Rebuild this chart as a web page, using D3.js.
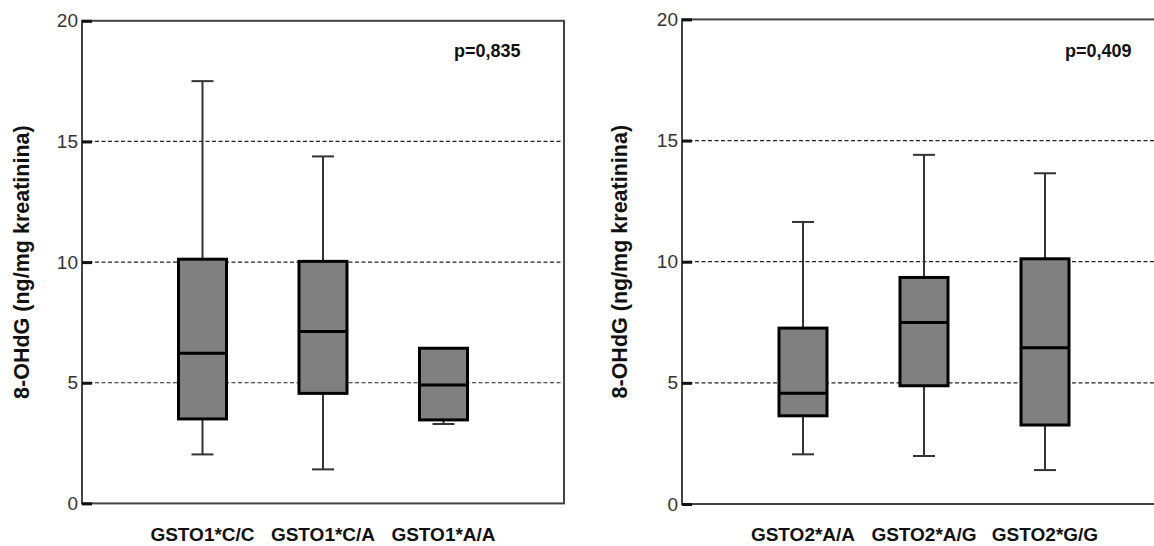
<!DOCTYPE html>
<html>
<head>
<meta charset="utf-8">
<script src="https://cdn.jsdelivr.net/npm/d3@7"></script>
<style>
  body { margin: 0; background: #fff; }
  svg { display: block; }
</style>
</head>
<body>
<div id="app"></div>
<script>
// data
const cats_o1 = ["GSTO1*C/C", "GSTO1*C/A", "GSTO1*A/A"]
const min_o1 = [2.03, 1.41, 3.29]
const q1_o1 = [3.50, 4.56, 3.46]
const med_o1 = [6.22, 7.12, 4.91]
const q3_o1 = [10.12, 10.03, 6.43]
const max_o1 = [17.5, 14.38, 6.43]
const p_o1 = "p=0,835"

const cats_o2 = ["GSTO2*A/A", "GSTO2*A/G", "GSTO2*G/G"]
const min_o2 = [2.05, 1.98, 1.40]
const q1_o2 = [3.64, 4.88, 3.26]
const med_o2 = [4.57, 7.49, 6.45]
const q3_o2 = [7.26, 9.35, 10.12]
const max_o2 = [11.64, 14.41, 13.65]
const p_o2 = "p=0,409"

const y_ticks = [0, 5, 10, 15, 20]
const grid_vals = [5, 10, 15]
const y_title = "8-OHdG (ng/mg kreatinina)"

const width = 1154
const height = 546
const frame_color = "#444"
const box_fill = "#808080"
const whisker_color = "#333"
const box_w = 48
const cap_w = 22
const font = "Liberation Sans, Arial, sans-serif"

const svg = d3.select("#app").append("svg")
   .attr("width", width)
   .attr("height", height)
   .attr("viewBox", [0, 0, width, height])

const make_panel = (cfg) => {
   const rows = cfg.cats.map((c, i) => ({
      cat: c, min: cfg.min[i], q1: cfg.q1[i], med: cfg.med[i], q3: cfg.q3[i], max: cfg.max[i]
   }))

   const x = d3.scalePoint()
      .domain(cfg.cats)
      .range([cfg.left, cfg.left + cfg.w])
      .padding(1)

   const y = d3.scaleLinear()
      .domain([0, 20])
      .range([cfg.bottom, cfg.top])

   const g = svg.append("g")

   // dashed gridlines
   g.append("g")
      .selectAll("line")
      .data(grid_vals)
      .join("line")
      .attr("x1", cfg.left)
      .attr("x2", cfg.left + cfg.w)
      .attr("y1", d => y(d))
      .attr("y2", d => y(d))
      .attr("stroke", "#222")
      .attr("stroke-width", 1.2)
      .attr("stroke-dasharray", "4,2.5")

   // frame
   g.append("rect")
      .attr("x", cfg.left)
      .attr("y", cfg.top)
      .attr("width", cfg.w)
      .attr("height", cfg.bottom - cfg.top)
      .attr("fill", "none")
      .attr("stroke", frame_color)
      .attr("stroke-width", 2)

   const box = g.append("g")
      .selectAll("g")
      .data(rows)
      .join("g")
      .attr("transform", d => `translate(${x(d.cat)},0)`)

   // whiskers
   box.append("line")
      .attr("x1", 0).attr("x2", 0)
      .attr("y1", d => y(d.max))
      .attr("y2", d => y(d.min))
      .attr("stroke", whisker_color)
      .attr("stroke-width", 2)

   box.selectAll(".cap")
      .data(d => [d.min, d.max].filter(v => v !== d.q3 && v !== d.q1))
      .join("line")
      .attr("class", "cap")
      .attr("x1", -cap_w / 2).attr("x2", cap_w / 2)
      .attr("y1", v => y(v))
      .attr("y2", v => y(v))
      .attr("stroke", whisker_color)
      .attr("stroke-width", 2)

   box.append("rect")
      .attr("x", -box_w / 2)
      .attr("width", box_w)
      .attr("y", d => y(d.q3))
      .attr("height", d => y(d.q1) - y(d.q3))
      .attr("fill", box_fill)
      .attr("stroke", "#000")
      .attr("stroke-width", 3)

   box.append("line")
      .attr("x1", -box_w / 2).attr("x2", box_w / 2)
      .attr("y1", d => y(d.med))
      .attr("y2", d => y(d.med))
      .attr("stroke", "#000")
      .attr("stroke-width", 3)

   // y axis, ticks pointing into the plot
   const ax = g.append("g")
      .attr("transform", `translate(${cfg.left},0)`)
      .call(d3.axisLeft(y).tickValues(y_ticks).tickSize(-10).tickPadding(4))
   ax.select(".domain").remove()
   ax.selectAll(".tick line")
      .attr("stroke", "#111")
      .attr("stroke-width", 3)
   ax.selectAll(".tick text")
      .attr("font-family", font)
      .attr("font-size", 19)
      .attr("fill", "#333")

   // category labels
   g.append("g")
      .selectAll("text")
      .data(cfg.cats)
      .join("text")
      .attr("x", d => x(d))
      .attr("y", 541)
      .attr("text-anchor", "middle")
      .attr("font-family", font)
      .attr("font-weight", "bold")
      .attr("font-size", 19)
      .attr("fill", "#111")
      .text(d => d)

   // y title
   g.append("text")
      .attr("transform", `translate(${cfg.title_x},${(cfg.top + cfg.bottom) / 2}) rotate(-90)`)
      .attr("text-anchor", "middle")
      .attr("font-family", font)
      .attr("font-weight", "bold")
      .attr("font-size", 21.5)
      .attr("fill", "#111")
      .text(y_title)

   // p value
   g.append("text")
      .attr("x", cfg.p_x)
      .attr("y", 57)
      .attr("font-family", font)
      .attr("font-weight", "bold")
      .attr("font-size", 18)
      .attr("fill", "#111")
      .text(cfg.p)
}

make_panel({
   cats: cats_o1, min: min_o1, q1: q1_o1, med: med_o1, q3: q3_o1, max: max_o1, p: p_o1,
   left: 82, w: 482, top: 20.8, bottom: 503.4, title_x: 29, p_x: 454
})

make_panel({
   cats: cats_o2, min: min_o2, q1: q1_o2, med: med_o2, q3: q3_o2, max: max_o2, p: p_o2,
   left: 682, w: 484, top: 19.4, bottom: 504, title_x: 627, p_x: 1065
})
</script>
</body>
</html>
